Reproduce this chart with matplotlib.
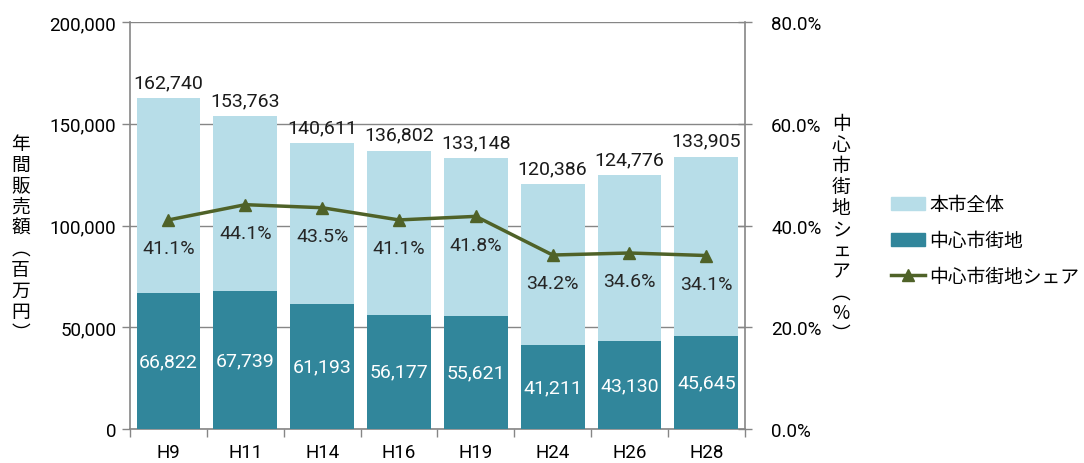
import matplotlib
matplotlib.use("Agg")
import matplotlib.pyplot as plt
import numpy as np
from matplotlib.lines import Line2D
from matplotlib.patches import Patch

categories = ["H9", "H11", "H14", "H16", "H19", "H24", "H26", "H28"]
total = [162740, 153763, 140611, 136802, 133148, 120386, 124776, 133905]
center = [66822, 67739, 61193, 56177, 55621, 41211, 43130, 45645]
share = [41.1, 44.1, 43.5, 41.1, 41.8, 34.2, 34.6, 34.1]

plt.rcParams['font.family'] = ['Roboto', 'Noto Sans CJK JP', 'DejaVu Sans']
cjk = ['Noto Sans CJK JP', 'DejaVu Sans']

c_total = "#B7DDE8"
c_center = "#31869B"
c_line = "#4F6228"
c_axis = "#868686"

fig = plt.figure(figsize=(10.84, 4.64), dpi=100)
ax = fig.add_axes([0.12, 0.0733, 0.567, 0.877])
x = np.arange(len(categories))
w = 0.83

ax.bar(x, total, width=w, color=c_total, zorder=2)
ax.bar(x, center, width=w, color=c_center, zorder=3)
ax.set_xlim(-0.5, len(categories) - 0.5)
ax.set_ylim(0, 200000)
ax.set_yticks(np.arange(0, 200001, 50000))
ax.set_yticklabels([f"{v:,}" for v in range(0, 200001, 50000)], fontsize=13.5)
ax.yaxis.grid(True, color=c_axis, linewidth=1, zorder=0)
ax.set_axisbelow(True)
ax.set_xticks(x)
ax.set_xticklabels(categories, fontsize=13.5)
ax.tick_params(axis='x', which='major', length=0, pad=10)
ax.set_xticks(np.arange(-0.5, len(categories), 1), minor=True)
ax.tick_params(axis='x', which='minor', length=6, color=c_axis, width=1)
ax.tick_params(axis='y', length=6, color=c_axis, width=1, pad=4)
for s in ['top', 'right']:
    ax.spines[s].set_visible(False)
for s in ['left', 'bottom']:
    ax.spines[s].set_color(c_axis)
    ax.spines[s].set_linewidth(1.2)

for xi, t, c in zip(x, total, center):
    ax.annotate(f"{t:,}", (xi, t), xytext=(0, 5), textcoords='offset points',
                ha='center', va='bottom', fontsize=14, color='#1a1a1a')
    ax.text(xi, c / 2, f"{c:,}", ha='center', va='center', fontsize=14,
            color='white', zorder=5)

ax2 = ax.twinx()
ax2.set_ylim(0, 80)
ax2.set_yticks(np.arange(0, 81, 20))
ax2.set_yticklabels([f"{v:.1f}%" for v in range(0, 81, 20)], fontsize=13.5)
ax2.plot(x, share, color=c_line, linewidth=2.5, marker='^', markersize=9, zorder=6)
for xi, s in zip(x, share):
    ax2.annotate(f"{s:.1f}%", (xi, s), xytext=(0, -14), textcoords='offset points',
                 ha='center', va='top', fontsize=14, color='#262626')
for s in ['top', 'left', 'bottom']:
    ax2.spines[s].set_visible(False)
ax2.spines['right'].set_color(c_axis)
ax2.spines['right'].set_linewidth(1.2)
ax2.tick_params(axis='y', direction='inout', length=10, color=c_axis, width=1, pad=14)

left_label = "年間販売額︵百万円︶"
fig.text(0.019, 0.485, "\n".join(left_label), ha='center', va='center',
         fontsize=13.5, family=cjk, linespacing=1.0)
right_label = "中心市街地シェア︵%︶"
fig.text(0.776, 0.505, "\n".join(right_label), ha='center', va='center',
         fontsize=13.5, family=cjk, linespacing=1.0)

handles = [Patch(color=c_total), Patch(color=c_center),
           Line2D([0], [0], color=c_line, lw=2.5, marker='^', markersize=9)]
labels = ["本市全体", "中心市街地", "中心市街地シェア"]
fig.legend(handles, labels, loc='center left', bbox_to_anchor=(0.815, 0.48),
           frameon=False, prop={'family': cjk, 'size': 13.5}, handlelength=1.8,
           labelspacing=0.8, handletextpad=0.25, borderaxespad=0)

fig.savefig("out.png", dpi=100)
